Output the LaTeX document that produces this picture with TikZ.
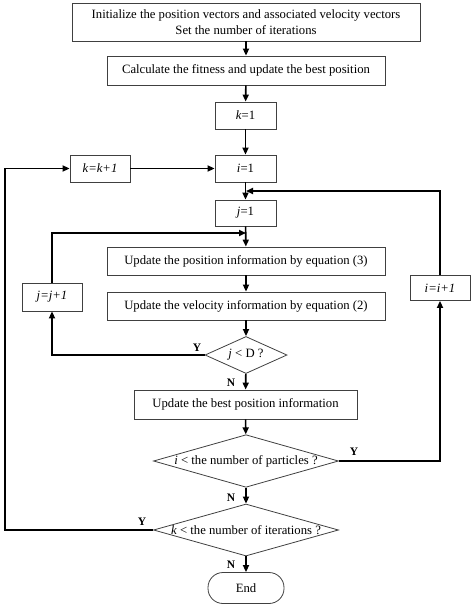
\documentclass[tikz,border=0pt]{standalone}
\usepackage{fontspec}
\setmainfont{Liberation Serif}
\usetikzlibrary{arrows.meta, shapes.geometric}

\tikzset{
  box/.style={draw=black!75, line width=0.8pt, inner sep=0pt, align=center, font=\fontsize{12.7}{15.5}\selectfont},
  cond/.style={box, diamond},
  flow/.style={line width=1.6pt, -{Triangle[length=7pt,width=6pt]}},
  yn/.style={font=\fontsize{11.5}{13}\selectfont\bfseries}
}

\begin{document}
\begin{tikzpicture}[x=1pt, y=-1pt]
        \useasboundingbox (0,0) rectangle (474,608);

        % main column
        \node[box, minimum width=348pt, minimum height=38pt] (init) at (246,22) {Initialize the position vectors and associated velocity vectors\\Set the number of iterations};
        \node[box, minimum width=278pt, minimum height=29pt] (fit) at (246,70.5) {Calculate the fitness and update the best position};
        \node[box, minimum width=61pt, minimum height=27pt] (k1) at (245.5,115.5) {\textit{k}=1};
        \node[box, minimum width=61pt, minimum height=27pt] (i1) at (245.5,168.5) {\textit{i}=1};
        \node[box, minimum width=61pt, minimum height=26pt] (j1) at (245.5,213) {\textit{j}=1};
        \node[box, minimum width=278pt, minimum height=28pt] (pos) at (246,261) {Update the position information by equation (3)};
        \node[box, minimum width=278pt, minimum height=28pt] (vel) at (246,306) {Update the velocity information by equation (2)};
        \node[cond, minimum width=82pt, minimum height=37pt, shape aspect=2.2] (jd) at (246,355) {\textit{j} < D ?};
        \node[box, minimum width=223pt, minimum height=29pt] (best) at (245.5,404.5) {Update the best position information};
        \node[cond, minimum width=185pt, minimum height=52pt, shape aspect=3.5] (ip) at (246,461) {\textit{i} < the number of particles ?};
        \node[cond, minimum width=185pt, minimum height=52pt, shape aspect=3.5] (kit) at (246,530) {\textit{k} < the number of iterations ?};
        \node[box, minimum width=76pt, minimum height=31pt, rounded corners=15pt] (end) at (246,588) {End};

        % counters
        \node[box, minimum width=60pt, minimum height=27pt] (kinc) at (100,168.5) {\textit{k=k+1}};
        \node[box, minimum width=60pt, minimum height=28pt] (jinc) at (52,297) {\textit{j=j+1}};
        \node[box, minimum width=60pt, minimum height=25pt] (iinc) at (440,288) {\textit{i=i+1}};

        \coordinate (jm) at (246,233);
        \coordinate (im) at (246,191);
        \coordinate (kl) at (5,530);

        \draw[flow] (init) -- (fit);
        \draw[flow] (fit) -- (k1);
        \draw[flow] (k1) -- (i1);
        \draw[flow] (i1) -- (j1);
        \draw[flow] (j1) -- (pos);
        \draw[flow] (pos) -- (vel);
        \draw[flow] (vel) -- (jd);
        \draw[flow] (jd) -- (best);
        \draw[flow] (best) -- (ip);
        \draw[flow] (ip) -- (kit);
        \draw[flow] (kit) -- (end);

        % loops
        \draw[flow] (jd.west) -| (jinc.south);
        \draw[flow] (jinc.north) |- (jm);
        \draw[flow] (ip.east) -| (iinc.south);
        \draw[flow] (iinc.north) |- (im);
        \draw[flow] (kit.west) -- (kl) |- (kinc.west);
        \draw[flow] (kinc) -- (i1);

        \node[yn] (y1) at (197,348) {Y};
        \node[yn] (n1) at (231,383) {N};
        \node[yn] (y2) at (354,452) {Y};
        \node[yn] (n2) at (231,498) {N};
        \node[yn] (y3) at (142,522) {Y};
        \node[yn] (n3) at (231,565) {N};
    \end{tikzpicture}
\end{document}
